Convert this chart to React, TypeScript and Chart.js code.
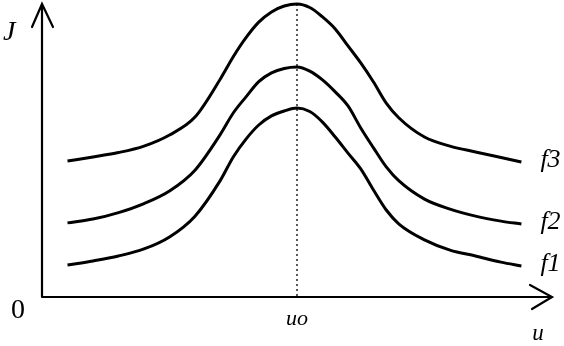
import React, { useEffect, useRef } from "react";
import { Chart, registerables } from "chart.js";

Chart.register(...registerables);

// shared abscissa (u), origin at 0, u0 at 10
const uValues = [1, 2, 3, 4, 5, 6, 7, 7.5, 8, 8.5, 9, 9.5, 10, 10.5, 11, 11.5, 12, 12.5, 13, 13.5, 14, 15, 16, 17, 18, 18.8];
const f3Values = [46.4, 47.8, 49.3, 51.5, 55.3, 61.4, 74.5, 82.0, 88.5, 93.8, 97.3, 99.3, 100, 98.8, 95.6, 91.5, 85.7, 79.9, 73.4, 66.2, 61.1, 54.6, 51.5, 49.5, 47.6, 46.1];
const f2Values = [25.3, 26.6, 28.8, 31.9, 36.2, 43.3, 55.6, 62.8, 68.3, 73.5, 76.5, 78.0, 78.5, 77.1, 74.1, 70.0, 65.2, 57.7, 50.9, 44.4, 39.6, 33.4, 30.0, 27.6, 25.9, 24.9];
const f1Values = [10.9, 12.3, 14.0, 16.4, 20.5, 27.6, 39.9, 47.8, 53.9, 58.7, 61.8, 63.5, 64.5, 63.3, 59.7, 54.6, 49.1, 43.7, 36.5, 29.7, 24.9, 19.5, 16.0, 14.0, 11.9, 10.6];
const seriesNames = ["f1", "f2", "f3"];
const uMax = 20;
const jMax = 100;
const peakU = 10;
const peakLabel = "uo";
const xAxisLabel = "u";
const yAxisLabel = "J";
const originLabel = "0";

const SERIF = "'Liberation Serif', 'Times New Roman', serif";

const sketchPlugin = {
  id: "sketch",
  beforeDatasetsDraw(chart: any) {
    const { ctx } = chart;
    const xs = chart.scales.x;
    const ys = chart.scales.y;
    const ox = xs.getPixelForValue(0);
    const oy = ys.getPixelForValue(0);
    const topY = ys.getPixelForValue(jMax);
    const rightX = xs.getPixelForValue(uMax);
    ctx.save();
    ctx.strokeStyle = "#000";
    ctx.lineWidth = 2.2;
    ctx.lineCap = "round";
    ctx.beginPath();
    ctx.moveTo(ox, oy);
    ctx.lineTo(ox, topY);
    ctx.moveTo(ox, oy);
    ctx.lineTo(rightX, oy);
    ctx.moveTo(ox - 10, topY + 23);
    ctx.lineTo(ox, topY);
    ctx.lineTo(ox + 11, topY + 23);
    ctx.moveTo(rightX - 22, oy - 12);
    ctx.lineTo(rightX, oy);
    ctx.lineTo(rightX - 20, oy + 12);
    ctx.stroke();
    const px = xs.getPixelForValue(peakU);
    const peakIdx = uValues.indexOf(peakU);
    ctx.lineWidth = 1.3;
    ctx.setLineDash([2, 3]);
    ctx.lineCap = "butt";
    ctx.beginPath();
    ctx.moveTo(px, ys.getPixelForValue(f3Values[peakIdx]));
    ctx.lineTo(px, oy);
    ctx.stroke();
    ctx.setLineDash([]);
    ctx.restore();
  },
  afterDatasetsDraw(chart: any) {
    const { ctx } = chart;
    const xs = chart.scales.x;
    const ys = chart.scales.y;
    const ox = xs.getPixelForValue(0);
    const oy = ys.getPixelForValue(0);
    ctx.save();
    ctx.fillStyle = "#000";
    ctx.textBaseline = "alphabetic";
    ctx.textAlign = "left";
    ctx.font = `italic 28px ${SERIF}`;
    ctx.fillText(yAxisLabel, ox - 39, 40);
    ctx.font = `28px ${SERIF}`;
    ctx.fillText(originLabel, ox - 31, oy + 21);
    ctx.font = `italic 22px ${SERIF}`;
    ctx.textAlign = "center";
    ctx.fillText(peakLabel, xs.getPixelForValue(peakU), oy + 28);
    ctx.font = `italic 23px ${SERIF}`;
    ctx.fillText(xAxisLabel, xs.getPixelForValue(uMax) - 14, oy + 43);
    ctx.textAlign = "left";
    ctx.font = `italic 26px ${SERIF}`;
    const ends = [f1Values, f2Values, f3Values];
    ends.forEach((vals, i) => {
      const yy = ys.getPixelForValue(vals[vals.length - 1]);
      ctx.fillText(seriesNames[i], xs.getPixelForValue(uValues[uValues.length - 1]) + 19, yy + 5);
    });
    ctx.restore();
  },
};

export default function App() {
  const ref = useRef<HTMLCanvasElement>(null);
  useEffect(() => {
    document.body.style.margin = "0";
    const canvas = ref.current!;
    let chart: Chart | null = null;
    let cancelled = false;
    const mk = (vals: number[], label: string) => ({
      label,
      data: uValues.map((u, i) => ({ x: u, y: vals[i] })),
      borderColor: "#000",
      borderWidth: 3,
      pointRadius: 0,
      cubicInterpolationMode: "monotone" as const,
      fill: false,
      clip: false as any,
    });
    const build = () => {
      if (cancelled) return;
      chart = new Chart(canvas, {
        type: "line",
        data: {
          datasets: [mk(f1Values, seriesNames[0]), mk(f2Values, seriesNames[1]), mk(f3Values, seriesNames[2])],
        },
        options: {
          responsive: false,
          animation: false,
          layout: { padding: { left: 42, top: 4, right: 12, bottom: 49 } },
          plugins: { legend: { display: false }, tooltip: { enabled: false } },
          scales: {
            x: { type: "linear", min: 0, max: uMax, display: false },
            y: { type: "linear", min: 0, max: jMax, display: false },
          },
        },
        plugins: [sketchPlugin],
      });
    };
    Promise.all([
      document.fonts.load(`italic 24px 'Liberation Serif'`),
      document.fonts.load(`24px 'Liberation Serif'`),
    ])
      .catch(() => null)
      .then(build);
    return () => {
      cancelled = true;
      if (chart) chart.destroy();
    };
  }, []);
  return (
    <div style={{ width: 564, height: 346, background: "#fff" }}>
      <canvas ref={ref} width={564} height={346} />
    </div>
  );
}
